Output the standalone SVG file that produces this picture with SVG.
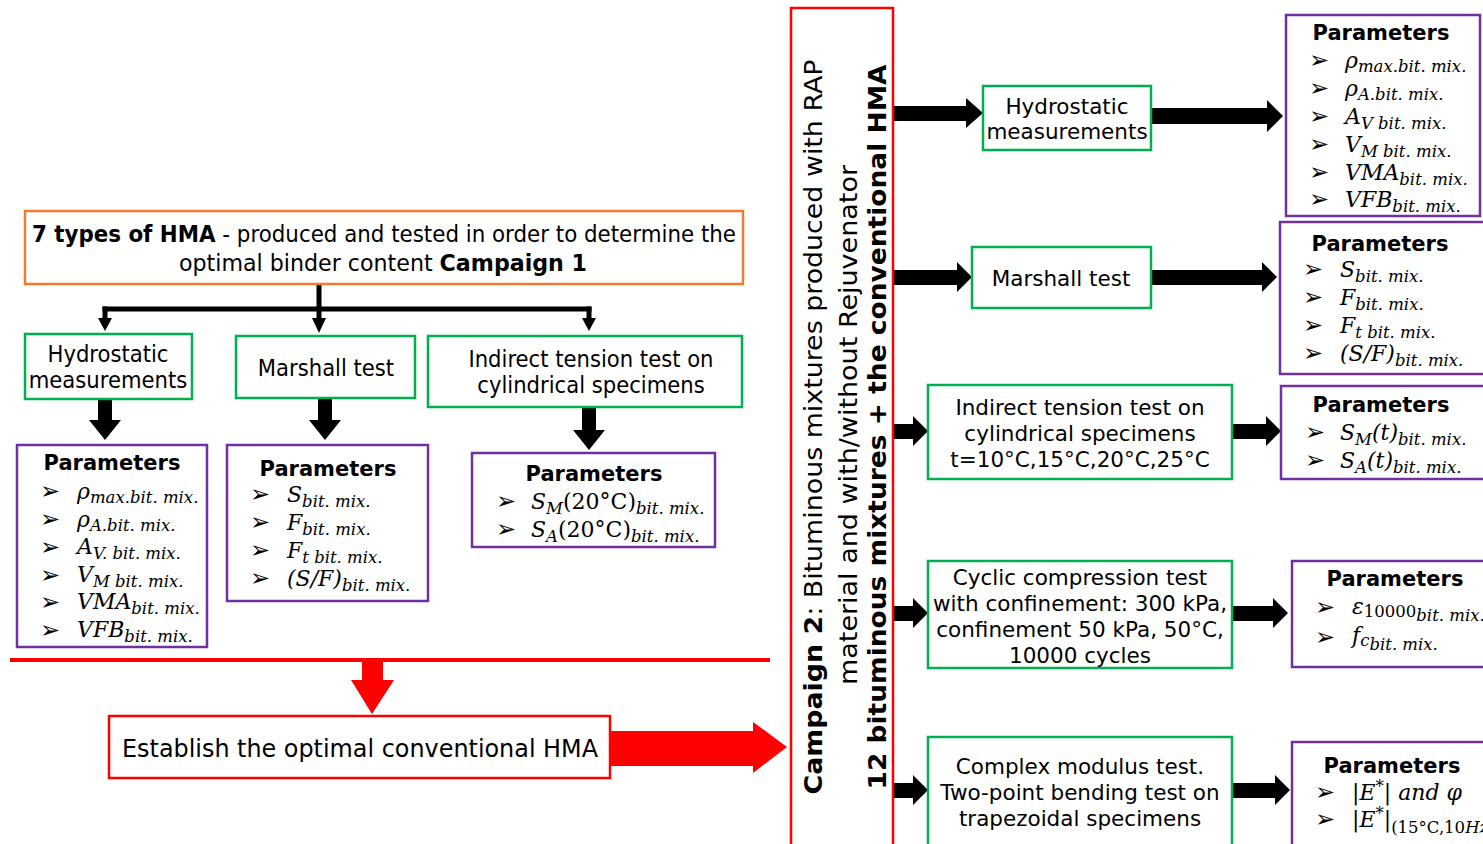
<svg xmlns="http://www.w3.org/2000/svg" width="1483" height="844" viewBox="0 0 1483 844">
<style>
.bg{fill:#fff}
.g{fill:#fff;stroke:#00B050;stroke-width:2.5}
.p{fill:#fff;stroke:#7030A0;stroke-width:2.5}
.o{fill:#fff;stroke:#ED7D31;stroke-width:2.5}
.r{fill:#fff;stroke:#FF0000;stroke-width:2.5}
.tc{font-family:"DejaVu Sans Condensed","DejaVu Sans",sans-serif;font-size:23.5px;fill:#000;text-anchor:middle}
.t{font-family:"DejaVu Sans",Verdana,sans-serif;font-size:21.5px;fill:#000;text-anchor:middle}
.hd{font-family:"DejaVu Sans",Verdana,sans-serif;font-size:21px;font-weight:bold;fill:#000;text-anchor:middle}
.b{font-family:"DejaVu Sans",sans-serif;font-size:24px;fill:#000}
.m{font-family:"DejaVu Serif","Liberation Serif",serif;font-size:22px;font-style:italic;fill:#000}
.s{font-size:16.5px}
.u{font-style:normal}
.vt{font-family:"DejaVu Sans",Verdana,sans-serif;font-size:24px;fill:#000;text-anchor:middle}
.blk{fill:#000}
.red{fill:#FF0000}
</style>
<rect class="bg" x="0" y="0" width="1483" height="844"/>

<g id="connectors">
  <rect class="blk" x="316.5" y="284" width="5" height="26"/>
  <rect class="blk" x="102.5" y="306.5" width="489" height="5"/>
  <rect class="blk" x="102.5" y="306.5" width="5" height="14"/>
  <polygon class="blk" points="98,318 112,318 105,331"/>
  <rect class="blk" x="316.5" y="306.5" width="5" height="16"/>
  <polygon class="blk" points="312,318 326,318 319,333"/>
  <rect class="blk" x="586.5" y="306.5" width="5" height="14"/>
  <polygon class="blk" points="582,318 596,318 589,331"/>
  <polygon class="blk" points="98,399 112,399 112,420 121,420 105,440 89,420 98,420"/>
  <polygon class="blk" points="318,398 332,398 332,420 341,420 325,440 309,420 318,420"/>
  <polygon class="blk" points="582,407 596,407 596,430 605,430 589,450 573,430 582,430"/>
  <rect class="red" x="10" y="658" width="760" height="4"/>
  <polygon class="red" points="362,660 383,660 383,680 394,680 372,714 351,680 362,680"/>
  <polygon class="red" points="610,731 753,731 753,722 787,747 753,773 753,766 610,766"/>
  <polygon class="blk" points="893,106 966,106 966,98 983,113 966,128 966,121 893,121"/>
  <polygon class="blk" points="893,270 957,270 957,262 972,277 957,292 957,285 893,285"/>
  <polygon class="blk" points="893,424 913,424 913,416 928,431 913,446 913,439 893,439"/>
  <polygon class="blk" points="893,606 913,606 913,598 928,613 913,628 913,621 893,621"/>
  <polygon class="blk" points="893,783 913,783 913,775 928,790 913,805 913,798 893,798"/>
  <polygon class="blk" points="1151,108 1267,108 1267,100 1283,116 1267,132 1267,124 1151,124"/>
  <polygon class="blk" points="1151,270 1262,270 1262,262 1277,277 1262,292 1262,285 1151,285"/>
  <polygon class="blk" points="1232,424 1266,424 1266,416 1281,431 1266,446 1266,439 1232,439"/>
  <polygon class="blk" points="1232,606 1273,606 1273,598 1288,613 1273,628 1273,621 1232,621"/>
  <polygon class="blk" points="1232,783 1275,783 1275,775 1290,790 1275,805 1275,798 1232,798"/>
</g>

<g id="campaign1">
  <rect class="o" x="25" y="211" width="718" height="73"/>
  <text class="tc" x="384" y="242" textLength="704" lengthAdjust="spacingAndGlyphs"><tspan font-weight="bold">7 types of HMA</tspan> - produced and tested in order to determine the</text>
  <text class="tc" x="383" y="271" textLength="408" lengthAdjust="spacingAndGlyphs">optimal binder content <tspan font-weight="bold">Campaign 1</tspan></text>
</g>

<g id="left-hydro">
  <rect class="g" x="25" y="334" width="167" height="65"/>
  <text class="tc" x="108" y="362">Hydrostatic</text>
  <text class="tc" x="108" y="388">measurements</text>
</g>
<g id="left-marshall">
  <rect class="g" x="236" y="336" width="179" height="62"/>
  <text class="tc" x="326" y="376">Marshall test</text>
</g>
<g id="left-indirect">
  <rect class="g" x="428" y="336" width="314" height="71"/>
  <text class="tc" x="591" y="367">Indirect tension test on</text>
  <text class="tc" x="591" y="393">cylindrical specimens</text>
</g>

<g id="left-params-1">
  <rect class="p" x="17" y="445" width="190" height="202"/>
  <text class="hd" x="112" y="470">Parameters</text>
  <text class="b" x="40" y="499">➢</text><text class="m" x="77" y="499">ρ<tspan class="s" dy="4">max.bit. mix.</tspan></text>
  <text class="b" x="40" y="527">➢</text><text class="m" x="77" y="527">ρ<tspan class="s" dy="4">A.bit. mix.</tspan></text>
  <text class="b" x="40" y="555">➢</text><text class="m" x="77" y="554">A<tspan class="s" dy="5">V. bit. mix.</tspan></text>
  <text class="b" x="40" y="583">➢</text><text class="m" x="77" y="582">V<tspan class="s" dy="5">M bit. mix.</tspan></text>
  <text class="b" x="40" y="610">➢</text><text class="m" x="77" y="609">VMA<tspan class="s" dy="5">bit. mix.</tspan></text>
  <text class="b" x="40" y="638">➢</text><text class="m" x="77" y="637">VFB<tspan class="s" dy="5">bit. mix.</tspan></text>
</g>
<g id="left-params-2">
  <rect class="p" x="227" y="445" width="201" height="156"/>
  <text class="hd" x="328" y="476">Parameters</text>
  <text class="b" x="250" y="502">➢</text><text class="m" x="287" y="502">S<tspan class="s" dy="5">bit. mix.</tspan></text>
  <text class="b" x="250" y="530">➢</text><text class="m" x="287" y="530">F<tspan class="s" dy="5">bit. mix.</tspan></text>
  <text class="b" x="250" y="558">➢</text><text class="m" x="287" y="558">F<tspan class="s" dy="5">t bit. mix.</tspan></text>
  <text class="b" x="250" y="586">➢</text><text class="m" x="287" y="586">(S/F)<tspan class="s" dy="5">bit. mix.</tspan></text>
</g>
<g id="left-params-3">
  <rect class="p" x="472" y="453" width="243" height="94"/>
  <text class="hd" x="594" y="481">Parameters</text>
  <text class="b" x="496" y="509">➢</text><text class="m" x="531" y="509">S<tspan class="s" dy="5">M</tspan><tspan class="u" dy="-5">(20°C)</tspan><tspan class="s" dy="5">bit. mix.</tspan></text>
  <text class="b" x="496" y="537">➢</text><text class="m" x="531" y="537">S<tspan class="s" dy="5">A</tspan><tspan class="u" dy="-5">(20°C)</tspan><tspan class="s" dy="5">bit. mix.</tspan></text>
</g>

<g id="establish">
  <rect class="r" x="109" y="716" width="501" height="62"/>
  <text class="tc" x="360" y="757" textLength="476" lengthAdjust="spacingAndGlyphs" style="font-size:24px">Establish the optimal conventional HMA</text>
</g>

<g id="campaign2">
  <rect class="r" x="791" y="8" width="102" height="840"/>
  <text class="vt" transform="translate(822,427) rotate(-90)" textLength="735" lengthAdjust="spacingAndGlyphs"><tspan font-weight="bold">Campaign 2</tspan>: Bituminous mixtures produced with RAP</text>
  <text class="vt" transform="translate(857,425) rotate(-90)" textLength="520" lengthAdjust="spacingAndGlyphs">material and with/without Rejuvenator</text>
  <text class="vt" font-weight="bold" transform="translate(886,427) rotate(-90)" textLength="725" lengthAdjust="spacingAndGlyphs">12 bituminous mixtures + the conventional HMA</text>
</g>

<g id="right-hydro">
  <rect class="g" x="983" y="86" width="168" height="64"/>
  <text class="t" x="1067" y="114">Hydrostatic</text>
  <text class="t" x="1067" y="139">measurements</text>
</g>
<g id="right-marshall">
  <rect class="g" x="972" y="247" width="179" height="61"/>
  <text class="t" x="1061" y="286">Marshall test</text>
</g>
<g id="right-indirect">
  <rect class="g" x="928" y="385" width="304" height="94"/>
  <text class="t" x="1080" y="415">Indirect tension test on</text>
  <text class="t" x="1080" y="441">cylindrical specimens</text>
  <text class="t" x="1080" y="467">t=10°C,15°C,20°C,25°C</text>
</g>
<g id="right-cyclic">
  <rect class="g" x="928" y="561" width="304" height="107"/>
  <text class="t" x="1080" y="585">Cyclic compression test</text>
  <text class="t" x="1080" y="611">with confinement: 300 kPa,</text>
  <text class="t" x="1080" y="637">confinement 50 kPa, 50°C,</text>
  <text class="t" x="1080" y="663">10000 cycles</text>
</g>
<g id="right-complex">
  <rect class="g" x="928" y="737" width="304" height="112"/>
  <text class="t" x="1080" y="774">Complex modulus test.</text>
  <text class="t" x="1080" y="800">Two-point bending test on</text>
  <text class="t" x="1080" y="826">trapezoidal specimens</text>
</g>

<g id="right-params-1">
  <rect class="p" x="1286" y="15" width="194" height="201"/>
  <text class="hd" x="1381" y="40">Parameters</text>
  <text class="b" x="1309" y="68">➢</text><text class="m" x="1345" y="68">ρ<tspan class="s" dy="4">max.bit. mix.</tspan></text>
  <text class="b" x="1309" y="96">➢</text><text class="m" x="1345" y="96">ρ<tspan class="s" dy="4">A.bit. mix.</tspan></text>
  <text class="b" x="1309" y="124">➢</text><text class="m" x="1345" y="124">A<tspan class="s" dy="5">V bit. mix.</tspan></text>
  <text class="b" x="1309" y="152">➢</text><text class="m" x="1345" y="152">V<tspan class="s" dy="5">M bit. mix.</tspan></text>
  <text class="b" x="1309" y="180">➢</text><text class="m" x="1345" y="180">VMA<tspan class="s" dy="5">bit. mix.</tspan></text>
  <text class="b" x="1309" y="207">➢</text><text class="m" x="1345" y="207">VFB<tspan class="s" dy="5">bit. mix.</tspan></text>
</g>
<g id="right-params-2">
  <rect class="p" x="1280" y="222" width="212" height="152"/>
  <text class="hd" x="1380" y="251">Parameters</text>
  <text class="b" x="1303" y="277">➢</text><text class="m" x="1340" y="277">S<tspan class="s" dy="5">bit. mix.</tspan></text>
  <text class="b" x="1303" y="305">➢</text><text class="m" x="1340" y="305">F<tspan class="s" dy="5">bit. mix.</tspan></text>
  <text class="b" x="1303" y="333">➢</text><text class="m" x="1340" y="333">F<tspan class="s" dy="5">t  bit. mix.</tspan></text>
  <text class="b" x="1303" y="361">➢</text><text class="m" x="1340" y="361">(S/F)<tspan class="s" dy="5">bit. mix.</tspan></text>
</g>
<g id="right-params-3">
  <rect class="p" x="1281" y="386" width="212" height="93"/>
  <text class="hd" x="1381" y="412">Parameters</text>
  <text class="b" x="1305" y="440">➢</text><text class="m" x="1340" y="440">S<tspan class="s" dy="5">M</tspan><tspan dy="-5">(t)</tspan><tspan class="s" dy="5">bit. mix.</tspan></text>
  <text class="b" x="1305" y="468">➢</text><text class="m" x="1340" y="468">S<tspan class="s" dy="5">A</tspan><tspan dy="-5">(t)</tspan><tspan class="s" dy="5">bit. mix.</tspan></text>
</g>
<g id="right-params-4">
  <rect class="p" x="1292" y="561" width="200" height="106"/>
  <text class="hd" x="1395" y="586">Parameters</text>
  <text class="b" x="1315" y="615">➢</text><text class="m" x="1352" y="614">ε<tspan class="s u" dy="3">10000</tspan><tspan class="s" dy="4">bit. mix.</tspan></text>
  <text class="b" x="1315" y="645">➢</text><text class="m" x="1352" y="643">f<tspan class="s" dy="3">c</tspan><tspan class="s" dy="4">bit. mix.</tspan></text>
</g>
<g id="right-params-5">
  <rect class="p" x="1292" y="742" width="200" height="110"/>
  <text class="hd" x="1392" y="773">Parameters</text>
  <text class="b" x="1315" y="800">➢</text><text class="m" x="1352" y="800"><tspan class="u">|</tspan>E<tspan class="s u" dy="-8">*</tspan><tspan class="u" dy="8">|</tspan> and φ</text>
  <text class="b" x="1315" y="827">➢</text><text class="m" x="1352" y="827"><tspan class="u">|</tspan>E<tspan class="s u" dy="-8">*</tspan><tspan class="u" dy="8">|</tspan><tspan class="s" dy="6"><tspan class="u">(15°C,10</tspan>Hz)</tspan></text>
</g>
</svg>
